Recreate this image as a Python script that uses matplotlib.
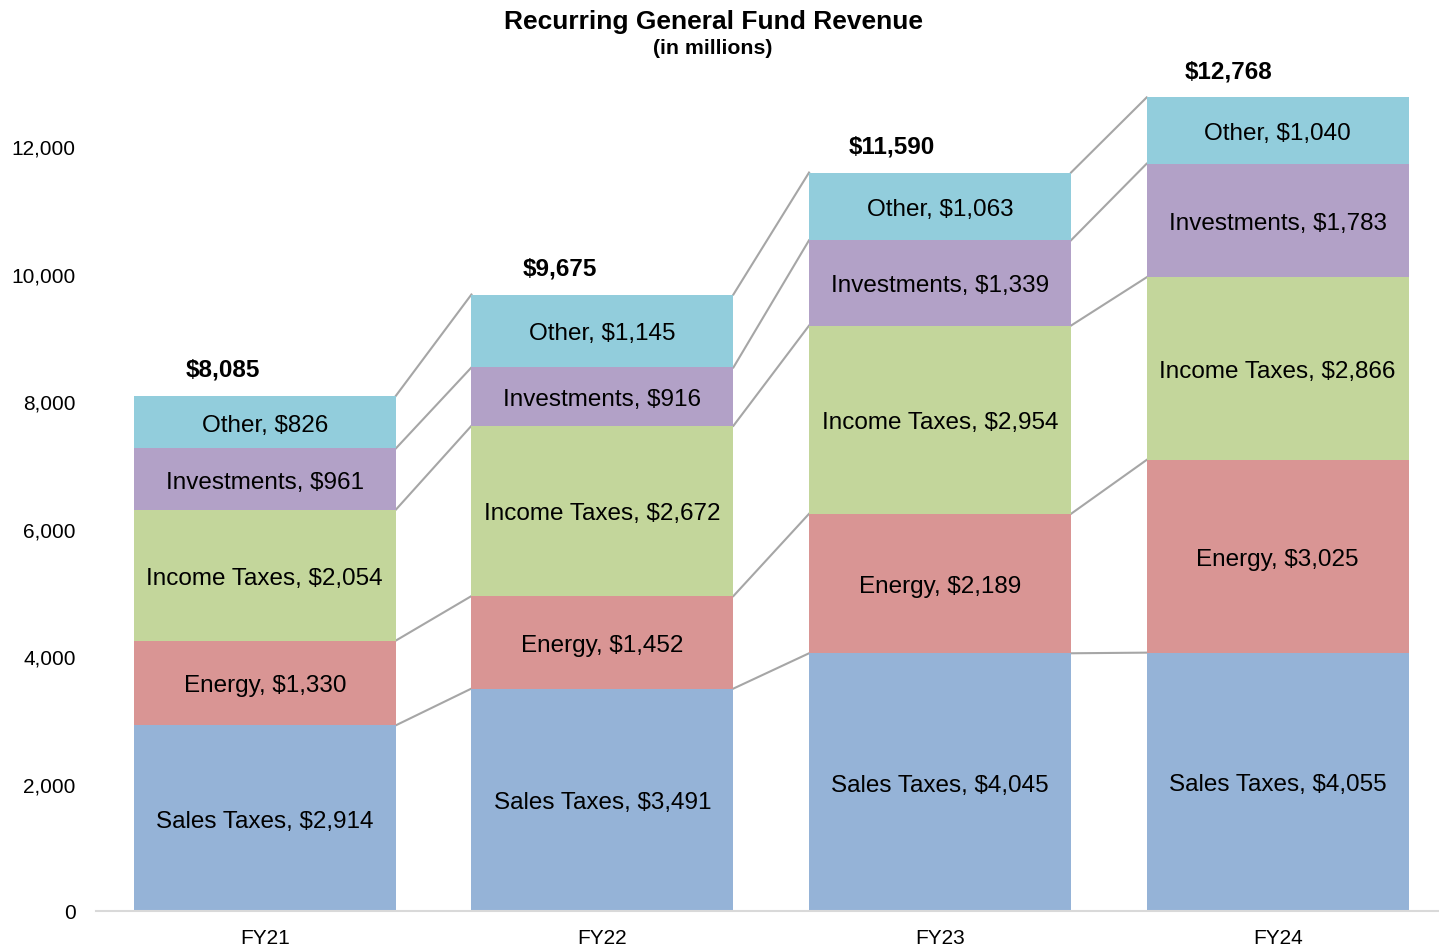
import matplotlib
matplotlib.use("Agg")
import matplotlib.pyplot as plt
import numpy as np

years = ["FY21", "FY22", "FY23", "FY24"]
series_names = ["Sales Taxes", "Energy", "Income Taxes", "Investments", "Other"]
sales = [2914, 3491, 4045, 4055]
energy = [1330, 1452, 2189, 3025]
income = [2054, 2672, 2954, 2866]
invest = [961, 916, 1339, 1783]
other = [826, 1145, 1063, 1040]
totals = [8085, 9675, 11590, 12768]
yticks = [0, 2000, 4000, 6000, 8000, 10000, 12000]

colors = ["#95B3D7", "#D99594", "#C3D69B", "#B2A1C7", "#92CDDC"]

plt.rcParams['font.family'] = ['Liberation Sans', 'DejaVu Sans']

fig = plt.figure(figsize=(14.39, 9.45), dpi=100)
ax = fig.add_axes([96/1439, 33/945, (1438-96)/1439, 892/945])

data = [sales, energy, income, invest, other]
x = np.arange(len(years))
w = 0.776
bottom = np.zeros(len(years))
for name, vals, c in zip(series_names, data, colors):
    vals = np.array(vals, dtype=float)
    ax.bar(x, vals, w, bottom=bottom, color=c, edgecolor='none', zorder=2)
    for xi, b, v in zip(x, bottom, vals):
        ax.text(xi, b + v / 2, f"{name}, ${int(v):,}", ha='center', va='center_baseline',
                fontsize=17.5, color='black', zorder=4)
    top = bottom + vals
    for i in range(len(years) - 1):
        ax.plot([x[i] + w / 2, x[i + 1] - w / 2], [top[i], top[i + 1]],
                color='#A6A6A6', lw=1.5, zorder=1)
    bottom = top

for xi, t in zip(x, totals):
    ax.text(xi - 0.015, t + 420, f"${t:,}", ha='right', va='center',
            fontsize=17.5, fontweight='bold', zorder=4)

ax.set_xlim(-0.5, 3.475)
ax.set_ylim(0, 14000)
ax.set_yticks(yticks)
ax.set_yticklabels([f"{v:,}" for v in yticks], fontsize=15)
ax.set_xticks(x)
ax.set_xticklabels(years, fontsize=15)
ax.tick_params(axis='both', length=0)
ax.tick_params(axis='y', pad=14.5)
ax.tick_params(axis='x', pad=12)
for s in ['top', 'right', 'left']:
    ax.spines[s].set_visible(False)
ax.spines['bottom'].set_color('#D9D9D9')
ax.spines['bottom'].set_linewidth(1.5)

fig.text(713/1439, 1 - 22/945, "Recurring General Fund Revenue", ha='center', va='center',
         fontsize=19, fontweight='bold')
fig.text(713/1439, 1 - 49/945, "(in millions)", ha='center', va='center',
         fontsize=15.3, fontweight='bold')

fig.savefig("out.png", dpi=100)
